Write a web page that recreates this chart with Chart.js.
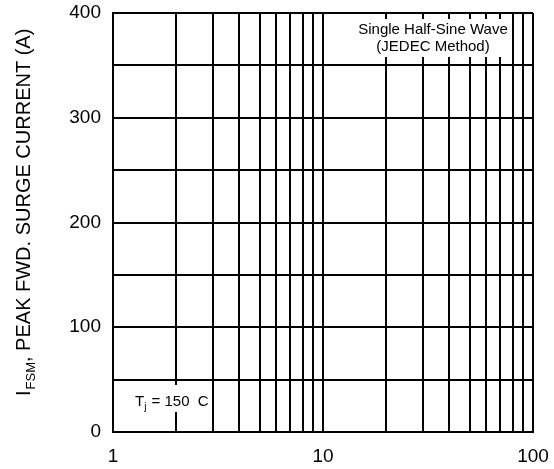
<!DOCTYPE html>
<html>
<head>
<meta charset="utf-8">
<script src="https://cdn.jsdelivr.net/npm/chart.js@4/dist/chart.umd.min.js"></script>
<style>
  html, body { margin: 0; padding: 0; background: #fff; }
  #wrap { width: 554px; height: 469px; }
</style>
</head>
<body>
<div id="wrap"><canvas id="myChart"></canvas></div>
<script>
/* data */

// grid positions on the log time axis (cycles)
const xGrid = [1, 2, 3, 4, 5, 6, 7, 8, 9, 10, 20, 30, 40, 50, 60, 70, 80, 90, 100];
const xLabels = [1, 10, 100];

// grid positions on the current axis (A)
const yGrid = [0, 50, 100, 150, 200, 250, 300, 350, 400];
const yLabels = [0, 100, 200, 300, 400];

// the curve itself is not printed on this sheet
const surgeCurrent = [];

const FONT = '"Liberation Sans", Arial, Helvetica, sans-serif';

// notes, axis title and white boxes behind the notes
const notes = {
  id: 'notes',
  afterDraw(chart) {
    const c = chart.ctx;
    c.save();
    c.fillStyle = '#fff';
    c.fillRect(346, 19, 166, 38);
    c.fillRect(130, 385, 78, 27);

    c.fillStyle = '#000';
    c.textAlign = 'center';
    c.textBaseline = 'middle';
    c.font = '15px ' + FONT;
    c.fillText('Single Half-Sine Wave', 433, 30);
    c.fillText('(JEDEC Method)', 433, 47);

    // T_j = 150 C
    c.textAlign = 'left';
    c.fillText('T', 135, 402);
    let w = c.measureText('T').width;
    c.font = '10px ' + FONT;
    c.fillText('j', 135 + w, 407);
    let w2 = c.measureText('j').width;
    c.font = '15px ' + FONT;
    c.fillText(' = 150  C', 135 + w + w2 + 1, 402);

    // y axis title, rotated, with subscript
    c.translate(24, 396);
    c.rotate(-Math.PI / 2);
    c.textBaseline = 'middle';
    c.font = '20px ' + FONT;
    c.fillText('I', 0, 0);
    let x = c.measureText('I').width + 1;
    c.font = '13px ' + FONT;
    c.fillText('FSM', x, 7);
    x += c.measureText('FSM').width;
    c.font = '20px ' + FONT;
    c.fillText(', PEAK FWD. SURGE CURRENT (A)', x, 0);
    c.restore();
  }
};

const ctx = document.getElementById('myChart').getContext('2d');

const chart = new Chart(ctx, {
  type: 'scatter',
  data: {
    datasets: [{
      label: 'IFSM',
      data: surgeCurrent,
      borderColor: '#000',
      backgroundColor: '#000',
      showLine: true,
      pointRadius: 0
    }]
  },
  options: {
    responsive: true,
    maintainAspectRatio: false,
    animation: false,
    layout: { padding: { top: 13, right: 21, left: 0, bottom: 0 } },
    plugins: {
      legend: { display: false },
      tooltip: { enabled: false }
    },
    scales: {
      x: {
        type: 'logarithmic',
        min: 1,
        max: 100,
        afterBuildTicks(scale) {
          scale.ticks = xGrid.map(v => ({ value: v, major: xLabels.includes(v) }));
        },
        afterFit(scale) {
          scale.height = 37;
          scale.paddingLeft = 0;
          scale.paddingRight = 0;
        },
        ticks: {
          autoSkip: false,
          maxRotation: 0,
          padding: 13,
          color: '#000',
          font: { family: FONT, size: 19 },
          callback: function (v) { return xLabels.includes(v) ? String(v) : ''; }
        },
        grid: { color: '#000', lineWidth: 2, drawTicks: false },
        border: { color: '#000', width: 2 }
      },
      y: {
        min: 0,
        max: 400,
        afterBuildTicks(scale) {
          scale.ticks = yGrid.map(v => ({ value: v }));
        },
        afterFit(scale) {
          scale.width = 113;
          scale.paddingTop = 0;
          scale.paddingBottom = 0;
        },
        ticks: {
          autoSkip: false,
          padding: 12,
          color: '#000',
          font: { family: FONT, size: 19 },
          callback: function (v) { return yLabels.includes(v) ? String(v) : ''; }
        },
        grid: { color: '#000', lineWidth: 2, drawTicks: false },
        border: { color: '#000', width: 2 }
      }
    }
  },
  plugins: [notes]
});
</script>
</body>
</html>
